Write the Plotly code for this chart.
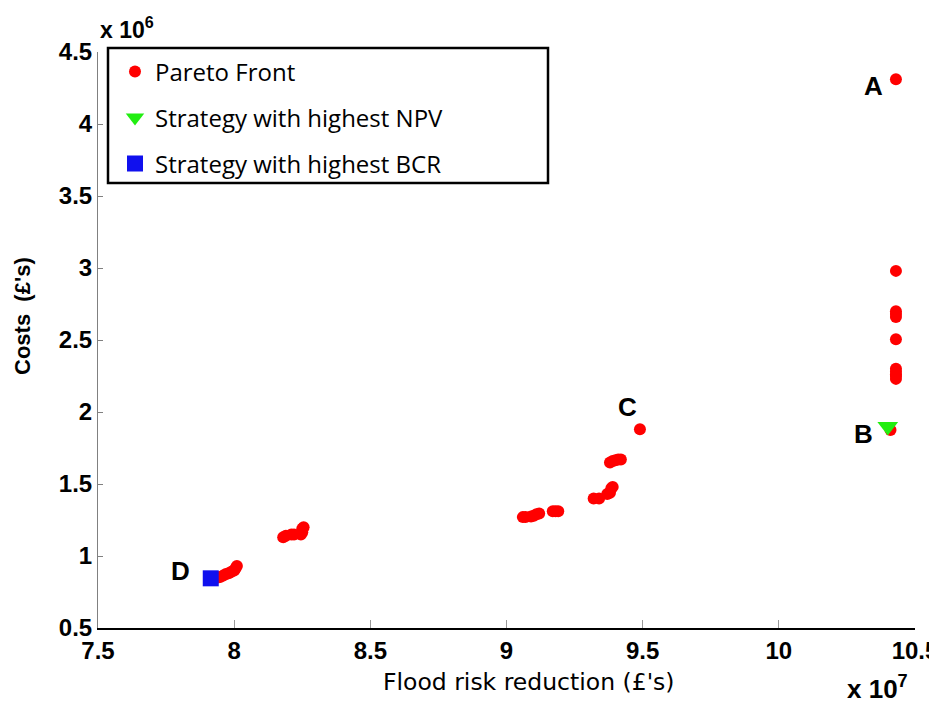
import plotly.graph_objects as go

# ---- data (x in units of 1e7 £, y in units of 1e6 £) ----
pareto_x = [7.94, 7.95, 7.96, 7.97, 7.98, 7.99, 8.00, 8.005, 8.01,
            8.18, 8.19, 8.21, 8.22, 8.245, 8.25, 8.25, 8.255,
            9.06, 9.07, 9.09, 9.10, 9.11, 9.12, 9.17, 9.18, 9.19,
            9.32, 9.34, 9.37, 9.38, 9.385, 9.39,
            9.38, 9.39, 9.40, 9.41, 9.42,
            9.49,
            10.43, 10.43, 10.43, 10.43, 10.43, 10.43, 10.43, 10.43, 10.43, 10.43, 10.43, 10.41]
pareto_y = [0.85, 0.855, 0.865, 0.875, 0.88, 0.89, 0.90, 0.915, 0.93,
            1.13, 1.14, 1.15, 1.15, 1.15, 1.165, 1.19, 1.20,
            1.27, 1.27, 1.275, 1.28, 1.29, 1.295, 1.31, 1.31, 1.31,
            1.40, 1.40, 1.43, 1.44, 1.47, 1.48,
            1.65, 1.66, 1.665, 1.67, 1.67,
            1.88,
            4.31, 2.98, 2.70, 2.68, 2.66, 2.505, 2.30, 2.28, 2.26, 2.25, 2.23, 1.875]
npv_x = [10.40]
npv_y = [1.90]
bcr_x = [7.914]
bcr_y = [0.845]

point_labels = ["A", "B", "C", "D"]
label_x = [10.43, 10.40, 9.49, 7.914]
label_y = [4.31, 1.90, 1.88, 0.845]

x_tickvals = [7.5, 8, 8.5, 9, 9.5, 10, 10.5]
x_ticktext = ["7.5", "8", "8.5", "9", "9.5", "10", "10.5"]
y_tickvals = [0.5, 1, 1.5, 2, 2.5, 3, 3.5, 4, 4.5]
y_ticktext = ["0.5", "1", "1.5", "2", "2.5", "3", "3.5", "4", "4.5"]

names = ["Pareto Front", "Strategy with highest NPV", "Strategy with highest BCR"]

TICKFONT = dict(family="Liberation Sans, Arial, sans-serif", size=24, color="black", weight="bold")
LEGFONT = dict(family="Open Sans, sans-serif", size=24, color="black")

# plot area in screen pixels (page has an 8px body margin)
PL, PR, PT, PB = 98, 915, 52, 628
PW, PH = PR - PL, PB - PT


def px_x(p):
    return (p - PL) / PW


def px_y(p):
    return (PB - p) / PH


fig = go.Figure()
fig.add_trace(go.Scatter(x=pareto_x, y=pareto_y, mode="markers", name=names[0],
                         marker=dict(color="#ff0000", size=12, symbol="circle", line=dict(width=0)),
                         legend="legend", cliponaxis=False))
fig.add_trace(go.Scatter(x=npv_x, y=npv_y, mode="markers", name=names[1],
                         marker=dict(color="#22ee11", size=18, symbol="triangle-down", line=dict(width=0)),
                         legend="legend2", cliponaxis=False))
fig.add_trace(go.Scatter(x=bcr_x, y=bcr_y, mode="markers", name=names[2],
                         marker=dict(color="#1010ee", size=16, symbol="square", line=dict(width=0)),
                         legend="legend3", cliponaxis=False))

# point labels
shifts = [(-11, -7, "right"), (-13, -8, "right"), (-12, 22, "center"), (-19, 7, "right")]
for t, px, py, (xs, ys, xa) in zip(point_labels, label_x, label_y, shifts):
    fig.add_annotation(x=px, y=py, text=t, showarrow=False, xanchor=xa, yanchor="middle",
                       xshift=xs, yshift=ys,
                       font=dict(family="Liberation Sans, Arial, sans-serif", size=26,
                                 color="black", weight="bold"))

# axis titles and exponents
fig.add_annotation(xref="paper", yref="paper", x=px_x(529), y=px_y(682),
                   text="Flood risk reduction (£'s)", showarrow=False,
                   xanchor="center", yanchor="middle",
                   font=dict(family="DejaVu Sans, sans-serif", size=23.5, color="black"))
fig.add_annotation(xref="paper", yref="paper", x=px_x(22), y=px_y(316),
                   text="Costs  (£'s)", showarrow=False, textangle=-90,
                   xanchor="center", yanchor="middle",
                   font=dict(family="Liberation Sans, Arial, sans-serif", size=22,
                             color="black", weight="bold"))
fig.add_annotation(xref="paper", yref="paper", x=0, y=px_y(45),
                   text="x 10<sup>6</sup>", showarrow=False, xanchor="left", yanchor="bottom",
                   font=dict(family="Liberation Sans, Arial, sans-serif", size=23,
                             color="black", weight="bold"))
fig.add_annotation(xref="paper", yref="paper", x=px_x(910), y=px_y(706),
                   text="x 10<sup>7</sup>", showarrow=False, xanchor="right", yanchor="bottom",
                   font=dict(family="Liberation Sans, Arial, sans-serif", size=26,
                             color="black", weight="bold"))

# legend box
fig.add_shape(type="rect", xref="paper", yref="paper",
              x0=px_x(108), x1=px_x(548), y0=px_y(183), y1=px_y(48),
              line=dict(color="black", width=2.5), fillcolor="rgba(0,0,0,0)", layer="above")

leg_common = dict(xanchor="left", yanchor="middle", bgcolor="rgba(0,0,0,0)",
                  borderwidth=0, font=LEGFONT)
lx = px_x(115)

fig.update_layout(
    width=929, height=712,
    margin=dict(l=PL - 8, r=929 - (PR - 8), t=PT - 8, b=712 - (PB - 8), autoexpand=False),
    paper_bgcolor="white", plot_bgcolor="white",
    showlegend=True,
    legend=dict(x=lx, y=px_y(72), **leg_common),
    legend2=dict(x=lx, y=px_y(118), **leg_common),
    legend3=dict(x=lx, y=px_y(164), **leg_common),
    xaxis=dict(range=[7.5, 10.5], tickvals=x_tickvals, ticktext=x_ticktext,
               showgrid=False, zeroline=False, showline=True, linecolor="black", linewidth=2,
               ticks="inside", ticklen=8, tickcolor="#999999", tickwidth=1,
               tickfont=TICKFONT, automargin=False, ticklabeloverflow="allow"),
    yaxis=dict(range=[0.5, 4.5], tickvals=y_tickvals, ticktext=y_ticktext,
               showgrid=False, zeroline=False, showline=True, linecolor="#808080", linewidth=1,
               ticks="inside", ticklen=5, tickcolor="#808080", tickwidth=1,
               tickfont=TICKFONT, automargin=False, ticklabeloverflow="allow"),
)

fig.write_html("out.html")
